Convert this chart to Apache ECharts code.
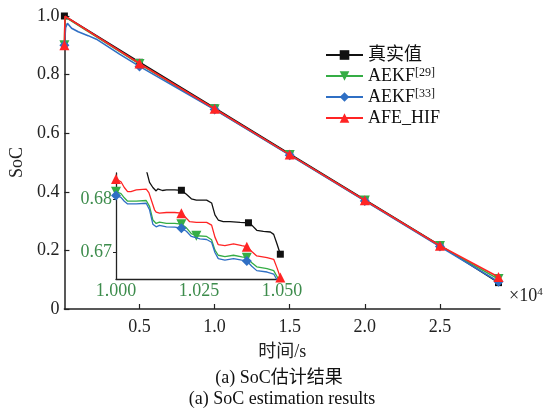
<!DOCTYPE html>
<html><head><meta charset="utf-8">
<script src="https://cdn.jsdelivr.net/npm/echarts@6/dist/echarts.min.js"></script>
<style>html,body{margin:0;padding:0;background:#fff}#c{width:559px;height:412px}</style>
</head><body><div id="c"></div>
<script>
// ---- data ----
const seriesNames = ['真实值', 'AEKF[29]', 'AEKF[33]', 'AFE_HIF'];
const xTicks = [5000, 10000, 15000, 20000, 25000];
const yTicks = [0, 0.2, 0.4, 0.6, 0.8, 1.0];
const insetXTicks = [10000, 10250, 10500];
const insetYTicks = [0.67, 0.68];

// main plot (time s, SoC)
const trueMain  = [[0,1.0],[5000,0.842],[10000,0.686],[15000,0.529],[20000,0.373],[25000,0.217],[28900,0.090]];
const aekf29Main = [[0,0.9],[40,0.997],[5000,0.836],[10000,0.6814],[15000,0.526],[20000,0.370],[25000,0.215],[28900,0.102]];
const aekf33Main = [[0,0.9],[80,0.96],[200,0.975],[480,0.958],[920,0.946],[1580,0.933],[2130,0.921],[3670,0.870],[5000,0.828],[10000,0.6806],[15000,0.525],[20000,0.369],[25000,0.213],[28900,0.093]];
const afeMain   = [[0,0.9],[40,0.999],[5000,0.838],[10000,0.6836],[15000,0.527],[20000,0.371],[25000,0.216],[28900,0.109]];
const mainMarks = [0, 5000, 10000, 15000, 20000, 25000, 28900];

// inset (zoom of 1.00-1.05 x10^4 s)
const trueInset = [[10000,0.6880],[10060,0.6872],[10085,0.6862],[10093,0.68516],[10101,0.68323],[10111,0.68226],[10121,0.68161],[10126,0.68200],[10131,0.68194],[10140,0.68170],[10152,0.68181],[10177,0.68181],[10197,0.68174],[10212,0.68097],[10227,0.68013],[10242,0.67987],[10273,0.67987],[10288,0.67935],[10298,0.6771],[10308,0.67613],[10323,0.67581],[10343,0.67581],[10374,0.67568],[10399,0.67561],[10409,0.67516],[10424,0.67419],[10444,0.674],[10465,0.67387],[10475,0.67342],[10485,0.67161],[10495,0.66968]];
const aekf29Inset = [[10000,0.68148],[10015,0.6811],[10025,0.68032],[10035,0.67968],[10061,0.67968],[10091,0.67981],[10101,0.67871],[10111,0.67613],[10121,0.67548],[10131,0.67574],[10152,0.67548],[10177,0.67548],[10197,0.67535],[10212,0.67465],[10227,0.67355],[10242,0.67316],[10273,0.67303],[10288,0.67239],[10298,0.67045],[10308,0.66948],[10328,0.66923],[10354,0.66948],[10379,0.66916],[10394,0.66903],[10409,0.66806],[10424,0.66729],[10455,0.66697],[10475,0.66658],[10485,0.66548],[10495,0.66439]];
const aekf33Inset = [[10000,0.68077],[10015,0.68039],[10025,0.67968],[10035,0.67916],[10061,0.67916],[10091,0.67929],[10101,0.67806],[10111,0.67535],[10121,0.67484],[10131,0.6751],[10152,0.67484],[10177,0.67477],[10197,0.67458],[10212,0.674],[10227,0.67303],[10253,0.67258],[10273,0.67245],[10288,0.67194],[10298,0.67],[10308,0.66884],[10328,0.66858],[10354,0.66884],[10379,0.66858],[10394,0.66839],[10409,0.66742],[10424,0.66658],[10455,0.66632],[10475,0.66594],[10485,0.66484],[10495,0.66374]];
const afeInset = [[10000,0.68387],[10015,0.68335],[10025,0.68226],[10035,0.68148],[10045,0.68148],[10061,0.68181],[10091,0.68194],[10099,0.68129],[10116,0.67806],[10121,0.67761],[10131,0.67742],[10152,0.67755],[10177,0.67755],[10197,0.67742],[10212,0.67645],[10222,0.67581],[10242,0.67568],[10273,0.67568],[10288,0.67516],[10298,0.6729],[10308,0.67148],[10328,0.67129],[10354,0.67161],[10379,0.67129],[10394,0.6711],[10409,0.67019],[10424,0.66935],[10455,0.66903],[10475,0.66871],[10485,0.6671],[10495,0.66529]];
const trueInsetMarks = [10197, 10399, 10495];
const aekf29InsetMarks = [10000, 10197, 10242, 10394];
const aekf33InsetMarks = [10000, 10197, 10394];
const afeInsetMarks = [10000, 10197, 10394, 10495];

// ---- chart ----
const FONT = "'Liberation Serif','Times New Roman','Noto Sans CJK SC',serif";
const AX = '#222';
const GREEN_TXT = '#3d8c4c';
const styles = [
  {color:'#111111', symbol:'rect', size:7, rot:0},
  {color:'#35ad45', symbol:'triangle', size:10, rot:180},
  {color:'#2f6fc4', symbol:'diamond', size:10, rot:0},
  {color:'#ff2424', symbol:'triangle', size:10, rot:0}
];
function build(points, marks) {
  return points.map(p => marks.indexOf(p[0]) >= 0 ? {value: p} : {value: p, symbol: 'none'});
}
const mainSets = [trueMain, aekf29Main, aekf33Main, afeMain];
const insetSets = [trueInset, aekf29Inset, aekf33Inset, afeInset];
const insetMarks = [trueInsetMarks, aekf29InsetMarks, aekf33InsetMarks, afeInsetMarks];
const series = [];
seriesNames.forEach((n, i) => {
  const s = styles[i];
  const common = {
    name: n, type: 'line', symbol: s.symbol, symbolSize: s.size, symbolRotate: s.rot,
    showSymbol: true, showAllSymbol: true,
    lineStyle: {color: s.color, width: 1.6}, itemStyle: {color: s.color},
    animation: false, z: 2 + i
  };
  series.push(Object.assign({}, common, {xAxisIndex: 0, yAxisIndex: 0, data: build(mainSets[i], mainMarks), clip: false}));
  series.push(Object.assign({}, common, {xAxisIndex: 1, yAxisIndex: 1, data: build(insetSets[i], insetMarks[i]), clip: true, lineStyle: {color: s.color, width: 1.3}}));
});

const chart = echarts.init(document.getElementById('c'), null, {renderer: 'canvas'});
chart.setOption({
  animation: false,
  backgroundColor: '#fff',
  textStyle: {fontFamily: FONT},
  grid: [
    {left: 61, top: 16, width: 439, height: 293},
    {left: 116, top: 173, width: 166, height: 106}
  ],
  xAxis: [
    {gridIndex: 0, type: 'value', min: 0, max: 29000,
     axisLine: {show: true, onZero: false, lineStyle: {color: AX, width: 1.5}},
     axisTick: {show: true, inside: true, length: 5, customValues: xTicks, lineStyle: {color: AX, width: 1.2}},
     axisLabel: {customValues: xTicks, formatter: v => (v / 1e4).toFixed(1), margin: 9, fontSize: 18, color: '#222', fontFamily: FONT},
     splitLine: {show: false},
     name: '时间/s', nameLocation: 'middle', nameGap: 34,
     nameTextStyle: {fontSize: 18, color: '#222', fontFamily: FONT}},
    {gridIndex: 1, type: 'value', min: 10000, max: 10500,
     axisLine: {show: true, onZero: false, lineStyle: {color: AX, width: 1.3}},
     axisTick: {show: false},
     axisLabel: {customValues: insetXTicks, formatter: v => (v / 1e4).toFixed(3), margin: 3, fontSize: 18, color: GREEN_TXT, fontFamily: FONT},
     splitLine: {show: false}}
  ],
  yAxis: [
    {gridIndex: 0, type: 'value', min: 0, max: 1,
     axisLine: {show: true, onZero: false, lineStyle: {color: AX, width: 1.5}},
     axisTick: {show: true, inside: true, length: 5, customValues: yTicks, lineStyle: {color: AX, width: 1.2}},
     axisLabel: {customValues: yTicks, formatter: v => v === 0 ? '0' : v.toFixed(1), margin: 5, fontSize: 18, color: '#222', fontFamily: FONT},
     splitLine: {show: false},
     name: 'SoC', nameLocation: 'middle', nameGap: 32,
     nameTextStyle: {fontSize: 18, color: '#222', fontFamily: FONT}},
    {gridIndex: 1, type: 'value', min: 0.665, max: 0.685,
     axisLine: {show: true, onZero: false, lineStyle: {color: AX, width: 1.3}},
     axisTick: {show: true, inside: false, length: 3, customValues: insetYTicks, lineStyle: {color: AX}},
     axisLabel: {customValues: insetYTicks, formatter: v => v.toFixed(2), margin: 4, fontSize: 18, color: GREEN_TXT, fontFamily: FONT},
     splitLine: {show: false}}
  ],
  legend: {
    show: true, orient: 'vertical', left: 320, top: 41,
    data: seriesNames, itemWidth: 37, itemHeight: 12, itemGap: 3,
    selectedMode: false,
    formatter: n => n.replace(/\[(\d+)\]/, '{sup|[$1]}'),
    textStyle: {fontSize: 18, color: '#111', fontFamily: FONT, lineHeight: 18,
      rich: {sup: {fontSize: 12, fontFamily: FONT, color: '#111', verticalAlign: 'top', lineHeight: 11}}}
  },
  graphic: [
    {type: 'text', left: 509, top: 287, style: {
      text: '×10{s|4}', rich: {s: {fontSize: 11, verticalAlign: 'top', lineHeight: 11, fontFamily: FONT, fill: '#222'}},
      fontSize: 18, fontFamily: FONT, fill: '#222'}},
    {type: 'text', x: 279, y: 378, style: {text: '(a) SoC估计结果', fontSize: 18, fontFamily: FONT, fill: '#111', align: 'center', verticalAlign: 'middle'}},
    {type: 'text', x: 282, y: 399, style: {text: '(a) SoC estimation results', fontSize: 18, fontFamily: FONT, fill: '#111', align: 'center', verticalAlign: 'middle'}}
  ],
  series: series
});
</script></body></html>
